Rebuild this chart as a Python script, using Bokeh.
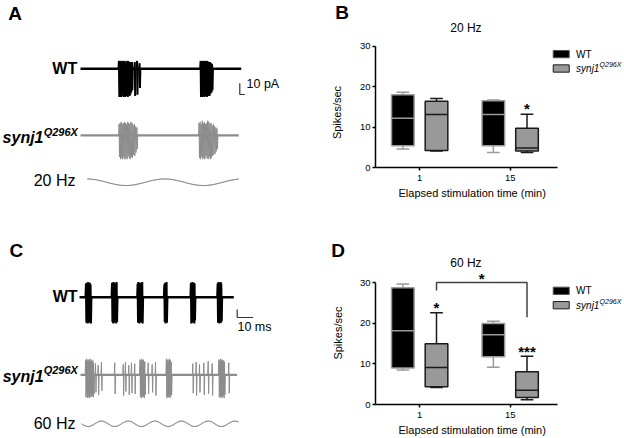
import numpy as np
from bokeh.plotting import figure
from bokeh.layouts import row, column
from bokeh.models import ColumnDataSource, Range1d, FixedTicker, Label, Title
from bokeh.core.properties import value
from bokeh.embed import file_html
from bokeh.resources import INLINE

FONT = "Liberation Sans"

# ======================= data =======================
time_labels = ["1", "15"]          # elapsed stimulation time (min)
cat_pos = [1, 2]

# Panel B: 20 Hz, spikes/sec (box: min, q1, median, q3, max)
wt20_min = [4.6, 3.7]
wt20_q1 = [5.4, 5.4]
wt20_med = [12.2, 13.1]
wt20_q3 = [18.0, 16.5]
wt20_max = [18.6, 16.7]
mut20_min = [4.1, 3.7]
mut20_q1 = [4.2, 4.1]
mut20_med = [13.1, 4.8]
mut20_q3 = [16.4, 9.7]
mut20_max = [17.1, 13.2]
sig20_mut = ["", "*"]

# Panel D: 60 Hz
wt60_min = [8.5, 9.2]
wt60_q1 = [9.0, 11.8]
wt60_med = [18.2, 17.2]
wt60_q3 = [28.8, 20.0]
wt60_max = [29.7, 20.5]
mut60_min = [4.2, 1.2]
mut60_q1 = [4.4, 1.7]
mut60_med = [9.1, 3.5]
mut60_q3 = [15.0, 8.1]
mut60_max = [22.6, 11.9]
sig60_mut = ["*", "***"]
bracket60_feet = [28.1, 21.5]      # mutant 1 min -> mutant 15 min
bracket60_top = 30.1
bracket60_sig = "*"

# Panel A: 20 Hz traces (spike times in ms, peak / trough in pA)
wtA_t = [24.8, 25.3, 25.9, 26.4, 27.0, 27.5, 28.1, 28.6, 29.2, 29.7, 30.3, 30.8, 31.4, 31.9, 32.5, 33.2, 35.0, 36.5, 38.1,
         77.5, 78.0, 78.6, 79.1, 79.7, 80.2, 80.8, 81.3, 81.9, 82.4, 83.0, 83.6, 84.3, 84.9]
wtA_up = [7, 6, 7, 5, 7, 6, 7, 6, 5, 7, 6, 7, 5, 6, 5, 6, 6, 7, 5,
          7, 6, 7, 6, 7, 5, 7, 6, 7, 6, 5, 6, 5, 4]
wtA_dn = [-25, -23, -25, -24, -22, -25, -24, -25, -23, -24, -25, -22, -24, -23, -21, -19, -24, -23, -17,
          -25, -24, -25, -23, -25, -24, -22, -25, -24, -23, -24, -22, -21, -19]
mutA_t = [24.9, 25.6, 26.3, 27.0, 27.7, 28.4, 29.1, 29.8, 30.5, 31.2, 31.9, 32.6, 33.3, 34.0, 34.8, 35.6, 36.4,
          76.5, 77.2, 77.9, 78.6, 79.3, 80.0, 80.7, 81.4, 82.1, 82.8, 83.5, 84.2, 85.0, 85.8, 86.6, 87.4, 88.1]
mutA_up = [10, 11, 12, 10, 11, 12, 11, 10, 12, 11, 10, 12, 11, 9, 10, 8, 7,
           11, 12, 10, 13, 11, 12, 10, 11, 13, 12, 10, 11, 9, 10, 8, 7, 6]
mutA_dn = [-19, -21, -20, -21, -19, -21, -20, -21, -18, -20, -21, -19, -20, -17, -18, -15, -12,
           -20, -21, -19, -21, -20, -21, -18, -20, -21, -19, -21, -20, -18, -17, -16, -14, -12]

# Panel C: 60 Hz traces
wtC_t = [3.4, 3.9, 4.3, 4.8, 5.3, 5.8, 6.3,
         19.7, 20.2, 20.6, 21.1, 21.6, 22.1, 22.6,
         35.7, 36.2, 36.6, 37.1, 37.6, 38.1, 38.6,
         52.4, 52.9, 53.3, 53.8,
         69.0, 69.5, 69.9, 70.4, 70.9, 71.3,
         85.7, 86.2, 86.6, 87.1, 87.6, 88.0]
wtC_up = [17, 18, 16, 19, 17, 18, 16,
          18, 17, 19, 16, 18, 17, 19,
          17, 19, 18, 16, 18, 17, 19,
          16, 18, 17, 19,
          18, 17, 19, 16, 18, 17,
          17, 19, 18, 16, 19, 17]
wtC_dn = [-32, -30, -33, -31, -32, -29, -33,
          -31, -33, -30, -32, -29, -33, -31,
          -32, -30, -33, -31, -29, -32, -33,
          -31, -33, -30, -32,
          -33, -31, -32, -30, -33, -29,
          -32, -30, -33, -31, -32, -30]
mutC_t = [3.2, 3.7, 4.2, 4.7, 5.2, 5.7, 6.2, 6.7, 7.2, 7.7, 8.2,
          9.4, 11.1, 13.1, 21.4, 26.7, 28.1, 30.2, 31.9, 33.9,
          37.2, 37.7, 38.2, 38.7, 39.2, 39.7, 40.2,
          42.3, 44.8, 46.9,
          53.7, 54.2, 54.7, 55.2, 55.7, 56.2, 56.7,
          70.2, 72.3, 74.4, 77.1, 79.8, 82.3,
          86.5, 87.0, 87.5, 88.0, 88.5, 89.0, 89.5, 90.0,
          92.7]
mutC_up = [18, 20, 17, 19, 18, 20, 17, 19, 16, 18, 15,
           14, 12, 16, 15, 13, 16, 12, 15, 14,
           19, 17, 20, 18, 19, 17, 16,
           15, 13, 16,
           20, 18, 19, 17, 20, 18, 16,
           14, 16, 13, 15, 17, 14,
           19, 17, 20, 18, 19, 17, 18, 16,
           15]
mutC_dn = [-28, -26, -29, -27, -29, -25, -28, -27, -26, -28, -24,
           -22, -25, -20, -24, -26, -21, -25, -23, -24,
           -27, -29, -26, -28, -27, -29, -25,
           -24, -22, -26,
           -29, -27, -28, -26, -29, -27, -25,
           -23, -26, -22, -25, -24, -26,
           -28, -26, -29, -27, -28, -26, -29, -25,
           -23]

stim_freq_hz = [20, 60]
legend_labels = ["WT", "synj1"]
legend_sup = "Q296X"

# ======================= style =======================
WT_COLOR = "#000000"
MUT_COLOR = "#8c8c8c"
BOX_WT_LINE = "#9a9a9a"
BOX_MUT_FILL = "#999999"
BOX_MUT_LINE = "#1a1a1a"


def bare_fig(width, height, xr, yr):
    p = figure(width=width, height=height, x_range=Range1d(*xr), y_range=Range1d(*yr),
               x_axis_location=None, y_axis_location=None, title=None,
               output_backend="svg", toolbar_location=None, min_border=0)
    p.grid.visible = False
    p.outline_line_color = None
    return p


def draw_trace(p, t0, t1, base, times, ups, dns, color, base_w, spike_w):
    p.line([t0, t1], [base, base], line_color=color, line_width=base_w)
    xs = [[t - 0.3, t, t + 0.25, t + 0.55] for t in times]
    ys = [[base, base + u, base + d, base] for u, d in zip(ups, dns)]
    p.multi_line(xs, ys, line_color=color, line_width=spike_w)


def draw_stim(p, t0, t1, base, amp, freq, phase):
    t = np.linspace(t0, t1, 500)
    p.line(t, base + amp * np.cos(2 * np.pi * freq * (t - t0) / 1000.0 + phase),
           line_color="#555555", line_width=1.0)


def txt(p, x, y, s, size, style="normal", align="left", baseline="middle", angle=0.0):
    p.text(x=[x], y=[y], text=[s], text_font=value(FONT), text_font_size=value(size),
           text_font_style=style, text_align=align, text_baseline=baseline,
           text_color="black", angle=angle)


# ---------------- Panel A (+ letter B and B's y-axis title) ----------------
pA = bare_fig(356, 214, (-51.61, 178.06), (-128.94, 60.44))
draw_trace(pA, 0, 103.7, 0, wtA_t, wtA_up, wtA_dn, WT_COLOR, 2.6, 2.0)
draw_trace(pA, 0, 102.1, -59.0, mutA_t, mutA_up, mutA_dn, MUT_COLOR, 2.2, 1.0)
draw_stim(pA, 4.3, 102.1, -100.4, 2.9, stim_freq_hz[0], 0.0)
pA.line([102.77, 102.77, 106.0], [-12.74, -22.74, -22.74], line_color="#333333", line_width=1.2)
txt(pA, 107.1, -13.45, "10 pA", "12.5px")
txt(pA, -42.26, 48.94, "A", "19px", "bold", "center")
txt(pA, -2.13, 0.53, "WT", "16px", "bold", "right")
txt(pA, -23.87, -60.8, "synj1", "16px", "bold italic", "right", "alphabetic")
txt(pA, -23.74, -55.6, "Q296X", "11px", "bold italic", "left", "alphabetic")
txt(pA, -3.23, -98.85, f"{stim_freq_hz[0]} Hz", "16px", "normal", "right")
txt(pA, 168.84, 50.09, "B", "19px", "bold", "center")
txt(pA, 165.8, -38.67, "Spikes/sec", "11px", "normal", "center", "middle", np.pi / 2)

# ---------------- Panel C (+ letter D and D's y-axis title) ----------------
pC = bare_fig(356, 224, (-50.0, 172.5), (-176.625, 103.375))
draw_trace(pC, -0.6, 95.8, 0, wtC_t, wtC_up, wtC_dn, WT_COLOR, 2.6, 2.0)
draw_trace(pC, 0, 97.9, -97.0, mutC_t, mutC_up, mutC_dn, MUT_COLOR, 2.2, 1.0)
draw_stim(pC, 0.6, 98.75, -158.25, 3.4, stim_freq_hz[1], np.pi / 2)
pC.line([97.94, 97.94, 107.94], [-15.4, -25.4, -25.4], line_color="#333333", line_width=1.2)
txt(pC, 98.1, -37.5, "10 ms", "12.5px")
txt(pC, -40.1, 58.4, "C", "19px", "bold", "center")
txt(pC, -1.875, 1.25, "WT", "16px", "bold", "right")
txt(pC, -23.1, -99.1, "synj1", "16px", "bold italic", "right", "alphabetic")
txt(pC, -23.0, -91.6, "Q296X", "11px", "bold italic", "left", "alphabetic")
txt(pC, -3.125, -157.9, f"{stim_freq_hz[1]} Hz", "16px", "normal", "right")
txt(pC, 160.94, 58.75, "D", "19px", "bold", "center")
txt(pC, 160.63, -44.75, "Spikes/sec", "11px", "normal", "center", "middle", np.pi / 2)

# ---------------- Box plot panels ----------------
X0, X1, XB = 0.512, 3.263, 2.528
OFF, BOXW, CAPW = 0.186, 0.25, 0.14


def box_fig(height, y_end, mbt, mbb):
    p = figure(width=268, height=height, x_range=Range1d(X0, X1), y_range=Range1d(0, y_end),
               output_backend="svg", toolbar_location=None, title=None,
               min_border_left=16, min_border_right=0, min_border_top=mbt, min_border_bottom=mbb)
    p.grid.visible = False
    p.outline_line_color = None
    xa, ya = p.xaxis[0], p.yaxis[0]
    xa.ticker = FixedTicker(ticks=cat_pos)
    xa.major_label_overrides = {c: l for c, l in zip(cat_pos, time_labels)}
    xa.bounds = (X0, XB)
    ya.ticker = FixedTicker(ticks=[0, 10, 20, 30])
    ya.bounds = (0, 30)
    for ax in (xa, ya):
        ax.axis_line_width = 1.5
        ax.axis_line_color = "black"
        ax.major_tick_line_width = 1.5
        ax.major_tick_line_color = "black"
        ax.major_tick_in = 0
        ax.major_tick_out = 3
        ax.minor_tick_line_color = None
        ax.major_label_text_font = FONT
        ax.major_label_text_font_size = "9.5px"
        ax.major_label_text_color = "black"
    xa.major_label_standoff = 4
    ya.major_label_standoff = 2
    p.add_layout(Title(text="Elapsed stimulation time (min)", align="left", offset=23,
                       text_font=FONT, text_font_size="11px", text_font_style="normal",
                       text_color="black", standoff=2), "below")
    return p


def draw_boxes(p, shift, lo, q1, med, q3, hi, fill, line):
    pos = [c + shift for c in cat_pos]
    src = ColumnDataSource(dict(
        x=pos, lo=lo, q1=q1, med=med, q3=q3, hi=hi,
        cl=[x - CAPW / 2 for x in pos], cr=[x + CAPW / 2 for x in pos],
        bl=[x - BOXW / 2 for x in pos], br=[x + BOXW / 2 for x in pos]))
    kw = dict(source=src, line_color=line, line_width=1.5)
    p.segment(x0="x", y0="q3", x1="x", y1="hi", **kw)
    p.segment(x0="x", y0="lo", x1="x", y1="q1", **kw)
    p.segment(x0="cl", y0="hi", x1="cr", y1="hi", **kw)
    p.segment(x0="cl", y0="lo", x1="cr", y1="lo", **kw)
    r = p.vbar(x="x", width=BOXW, bottom="q1", top="q3", fill_color=fill, **kw)
    p.segment(x0="bl", y0="med", x1="br", y1="med", **kw)
    return r, pos


def lab(p, x, y, s, size, style="normal", align="center"):
    p.add_layout(Label(x=x, y=y, text=s, text_font=FONT, text_font_size=size, text_color="black",
                       text_font_style=style, text_align=align, text_baseline="middle"))


def add_key(p, y_wt, y_mut, y_sup):
    # legend swatches (16 x 7 px) and their labels
    p.rect(x=[2.564], y=[y_wt], width=16, height=7.3, width_units="screen", height_units="screen",
           fill_color=WT_COLOR, line_color="#555555", line_width=1)
    p.rect(x=[2.564], y=[y_mut], width=16, height=7.3, width_units="screen", height_units="screen",
           fill_color=BOX_MUT_FILL, line_color=BOX_MUT_LINE, line_width=1)
    lab(p, 2.728, y_wt, legend_labels[0], "10px", "normal", "left")
    lab(p, 2.728, y_mut, legend_labels[1], "10px", "italic", "left")
    lab(p, 2.988, y_sup, legend_sup, "7px", "italic", "left")


# Panel B
pB = box_fig(214, 37.12, 17, 47)
rB_wt, posB_wt = draw_boxes(pB, -OFF, wt20_min, wt20_q1, wt20_med, wt20_q3, wt20_max, WT_COLOR, BOX_WT_LINE)
rB_mut, posB_mut = draw_boxes(pB, OFF, mut20_min, mut20_q1, mut20_med, mut20_q3, mut20_max, BOX_MUT_FILL, BOX_MUT_LINE)
for x, h, s in zip(posB_mut, mut20_max, sig20_mut):
    if s:
        lab(pB, x, h + 1.4, s, "15px", "bold")
lab(pB, 1.511, 34.64, f"{stim_freq_hz[0]} Hz", "12px")
add_key(pB, 28.06, 24.50, 25.37)

# Panel D
pD = box_fig(224, 36.98, 40, 34)
rD_wt, posD_wt = draw_boxes(pD, -OFF, wt60_min, wt60_q1, wt60_med, wt60_q3, wt60_max, WT_COLOR, BOX_WT_LINE)
rD_mut, posD_mut = draw_boxes(pD, OFF, mut60_min, mut60_q1, mut60_med, mut60_q3, mut60_max, BOX_MUT_FILL, BOX_MUT_LINE)
for x, h, s in zip(posD_mut, mut60_max, sig60_mut):
    if s:
        lab(pD, x, h + 1.2, s, "15px", "bold")
pD.line([posD_mut[0], posD_mut[0], posD_mut[1], posD_mut[1]],
        [bracket60_feet[0], bracket60_top, bracket60_top, bracket60_feet[1]],
        line_color="#444444", line_width=1.5)
lab(pD, (posD_mut[0] + posD_mut[1]) / 2, 31.0, bracket60_sig, "15px", "bold")
lab(pD, 1.511, 34.81, f"{stim_freq_hz[1]} Hz", "12px")
add_key(pD, 28.03, 24.48, 25.35)

layout = row(column(pA, pC), column(pB, pD))
open("out.html", "w").write(file_html(layout, INLINE))
